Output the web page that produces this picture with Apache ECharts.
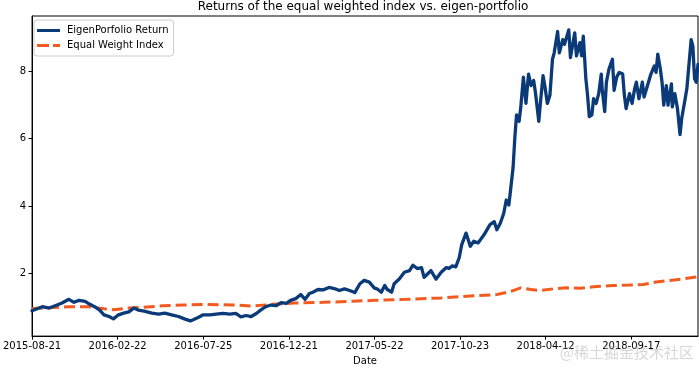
<!DOCTYPE html>
<html>
<head>
<meta charset="utf-8">
<script src="https://cdn.jsdelivr.net/npm/echarts@6/dist/echarts.min.js"></script>
<style>
html,body{margin:0;padding:0;background:#fff;}
#chart{width:699px;height:371px;}
</style>
</head>
<body>
<div id="chart"></div>
<script>
// Tick labels (dates shown every 100 trading days)
const tickDays = [0, 100, 200, 300, 400, 500, 600, 700];
const tickLabels = ["2015-08-21", "2016-02-22", "2016-07-25", "2016-12-21", "2017-05-22", "2017-10-23", "2018-04-12", "2018-09-17"];
const yTicks = [2, 4, 6, 8];

// EigenPorfolio Return: [trading day index, cumulative return]
const eigenReturn = [
[0,0.90],[12,1.02],[20,0.98],[27,1.05],[35,1.13],[43,1.24],[49,1.15],[55,1.21],[62,1.18],[67,1.10],
[73,1.02],[79,0.92],[84,0.78],[90,0.73],[95,0.66],[101,0.78],[107,0.83],[113,0.87],[119,0.98],[124,0.92],
[131,0.89],[140,0.83],[148,0.80],[155,0.83],[163,0.78],[171,0.73],[178,0.66],[185,0.60],[194,0.70],[200,0.78],
[208,0.78],[215,0.80],[223,0.82],[231,0.80],[238,0.82],[244,0.72],[250,0.76],[256,0.73],[262,0.82],[267,0.92],
[273,1.02],[279,1.07],[285,1.05],[291,1.14],[297,1.12],[302,1.21],[308,1.26],[314,1.38],[319,1.24],[324,1.41],
[328,1.45],[334,1.53],[340,1.52],[347,1.59],[354,1.55],[359,1.50],[365,1.55],[371,1.50],[377,1.44],[383,1.70],
[388,1.80],[394,1.75],[400,1.57],[403,1.55],[408,1.45],[412,1.65],[415,1.53],[420,1.45],[423,1.70],[429,1.84],
[435,2.04],[441,2.09],[445,2.25],[450,2.15],[455,2.18],[458,1.89],[462,1.99],[466,2.09],[472,1.84],[478,2.04],
[484,2.18],[487,2.15],[491,2.23],[495,2.20],[499,2.47],[502,2.86],[507,3.20],[512,2.81],[516,2.96],[521,2.91],
[524,3.01],[528,3.15],[535,3.45],[540,3.54],[543,3.30],[547,3.49],[551,3.78],[554,4.18],[557,4.03],[559,4.47],
[562,5.15],[564,6.02],[566,6.70],[569,6.51],[571,6.94],[574,7.82],[577,7.04],[580,7.91],[583,7.57],[586,7.72],
[588,7.38],[592,6.51],[594,7.09],[597,7.86],[599,7.57],[602,7.04],[605,7.28],[608,8.35],[610,8.54],[614,9.17],
[616,8.54],[620,8.93],[622,8.79],[627,9.22],[629,8.40],[634,9.13],[636,8.45],[640,8.84],[642,8.45],[644,9.03],
[647,7.77],[649,7.28],[651,6.65],[654,6.70],[656,7.18],[659,7.04],[662,7.33],[665,7.91],[666,7.48],[669,6.80],
[671,7.67],[674,8.06],[678,8.35],[680,7.43],[683,7.82],[686,7.96],[690,7.91],[692,7.28],[694,6.89],[698,7.33],
[701,7.04],[704,7.48],[706,7.67],[709,7.18],[713,7.67],[715,7.23],[719,7.57],[723,7.91],[727,8.15],[729,7.96],
[731,8.50],[734,8.06],[736,7.67],[738,6.99],[741,7.57],[743,6.99],[747,7.62],[748,6.94],[751,7.33],[754,6.89],
[757,6.12],[759,6.60],[763,7.18],[765,7.48],[767,8.06],[770,8.93],[772,8.74],[774,7.77],[776,7.67],[778,8.20]
];

// Equal Weight Index: [trading day index, cumulative return]
const equalWeight = [
[0,0.97],[20,0.99],[43,1.02],[66,1.02],[84,0.96],[95,0.93],[113,0.98],[130,1.00],[153,1.05],[177,1.07],
[200,1.09],[235,1.07],[258,1.04],[281,1.09],[305,1.13],[340,1.15],[374,1.18],[400,1.21],[438,1.24],[478,1.28],
[508,1.33],[543,1.38],[559,1.47],[571,1.58],[583,1.53],[594,1.50],[609,1.55],[624,1.58],[641,1.57],[656,1.61],
[679,1.65],[699,1.66],[714,1.68],[729,1.75],[745,1.80],[760,1.84],[778,1.91]
];

const BLUE = "#0b3a78";
const ORANGE = "#f25a1f";
const FONT = "DejaVu Sans";

const chart = echarts.init(document.getElementById('chart'), null, {renderer: 'canvas'});
chart.setOption({
  animation: false,
  backgroundColor: '#fff',
  textStyle: {fontFamily: FONT},
  title: {
    text: 'Returns of the equal weighted index vs. eigen-portfolio',
    left: 363, top: 1, padding: 0, textAlign: 'center',
    textStyle: {fontFamily: FONT, fontSize: 12, fontWeight: 'normal', color: '#000'}
  },
  legend: {
    orient: 'vertical', left: 34, top: 20,
    padding: [5, 5, 5, 3],
    itemGap: 4, itemWidth: 23, itemHeight: 3,
    borderColor: '#cccccc', borderWidth: 1, borderRadius: 3,
    backgroundColor: 'rgba(255,255,255,0.8)',
    textStyle: {fontFamily: FONT, fontSize: 10, color: '#000', padding: [0, 0, 0, 2], lineHeight: 11},
    data: [
      {name: 'EigenPorfolio Return', icon: 'path://M0,0H23V3H0Z', itemStyle: {color: BLUE}},
      {name: 'Equal Weight Index', icon: 'path://M0,0H12V3H0Z M16,0H23V3H16Z', itemStyle: {color: ORANGE}}
    ]
  },
  grid: {left: 28, right: 1, top: 16, bottom: 29, show: true, borderColor: '#000', borderWidth: 1, backgroundColor: 'transparent'},
  xAxis: {
    type: 'value', min: 0, max: 778,
    name: 'Date', nameLocation: 'middle', nameGap: 17,
    nameTextStyle: {fontFamily: FONT, fontSize: 10, color: '#000'},
    axisLine: {show: true, lineStyle: {color: '#000', width: 1}},
    axisTick: {show: true, length: 3.5, lineStyle: {color: '#000'}, customValues: tickDays},
    axisLabel: {
      fontFamily: FONT, fontSize: 10, color: '#000', margin: 5,
      customValues: tickDays,
      formatter: v => tickLabels[tickDays.indexOf(Math.round(v))] || ''
    },
    splitLine: {show: false}
  },
  yAxis: {
    type: 'value', min: 0.15, max: 9.63,
    axisLine: {show: true, lineStyle: {color: '#000', width: 1}},
    axisTick: {show: true, length: 3.5, lineStyle: {color: '#000'}, customValues: yTicks},
    axisLabel: {fontFamily: FONT, fontSize: 10, color: '#000', margin: 6, customValues: yTicks},
    splitLine: {show: false}
  },
  graphic: [{
    type: 'text', right: 5, top: 345, z: 100,
    style: {text: '@稀土掘金技术社区', font: '15px "Noto Sans CJK SC"', fill: 'rgba(175,175,175,0.5)'}
  }],
  series: [
    {
      name: 'EigenPorfolio Return', type: 'line', data: eigenReturn,
      symbol: 'none', showSymbol: false, z: 3,
      itemStyle: {color: BLUE},
      lineStyle: {color: BLUE, width: 3.3, join: 'round', cap: 'round'}
    },
    {
      name: 'Equal Weight Index', type: 'line', data: equalWeight,
      symbol: 'none', showSymbol: false, z: 2,
      itemStyle: {color: ORANGE},
      lineStyle: {color: ORANGE, width: 3, type: [11, 5]}
    }
  ]
});
</script>
</body>
</html>
